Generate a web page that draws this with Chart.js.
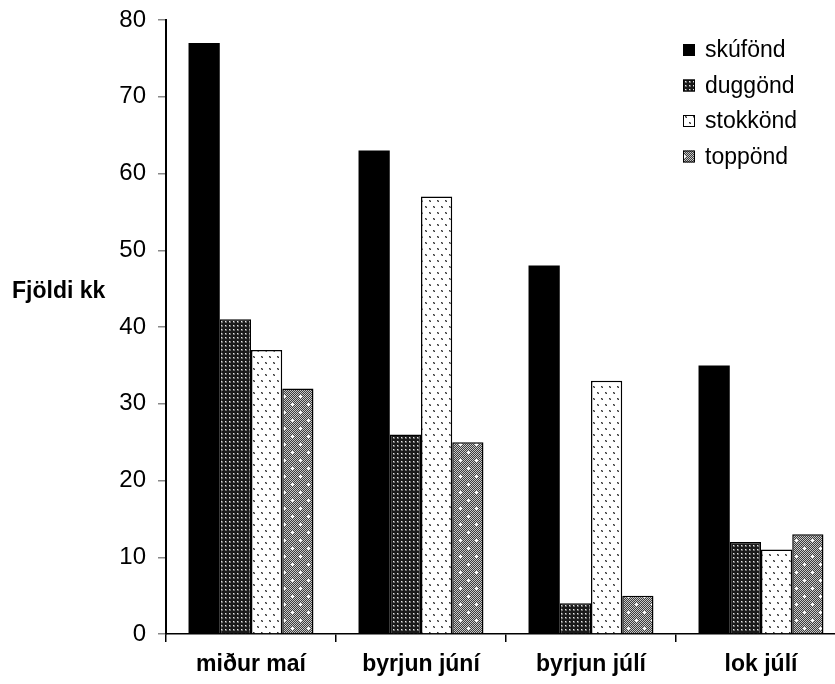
<!DOCTYPE html>
<html>
<head>
<meta charset="utf-8">
<script src="https://cdn.jsdelivr.net/npm/chart.js@4/dist/chart.umd.min.js"></script>
<style>
  html, body { margin: 0; padding: 0; background: #fff; overflow: hidden; }
  #wrap { position: relative; width: 850px; height: 684px; }
</style>
</head>
<body>
<div id="wrap"><canvas id="c"></canvas></div>
<script>
// Periods and species counts
const categories = ['miður maí', 'byrjun júní', 'byrjun júlí', 'lok júlí'];
const seriesNames = ['skúfönd', 'duggönd', 'stokkönd', 'toppönd'];
const skufond  = [77, 63, 48, 35];
const duggond  = [41, 26, 4, 12];
const stokkond = [37, 57, 33, 11];
const toppond  = [32, 25, 5, 13];
const yTicks = [0, 10, 20, 30, 40, 50, 60, 70, 80];

const FONT = '"Liberation Sans", Arial, sans-serif';

// Small tiled fills for the hatched bars
function tile(w, h, draw) {
  const cv = document.createElement('canvas');
  cv.width = w; cv.height = h;
  const g = cv.getContext('2d');
  draw(g);
  return document.createElement('canvas').getContext('2d').createPattern(cv, 'repeat');
}
const darkDots = tile(4, 4, g => {
  g.fillStyle = '#1a1a1a'; g.fillRect(0, 0, 4, 4);
  g.fillStyle = '#6e6e6e'; g.fillRect(1, 1, 2, 2);
  g.fillStyle = '#e8e8e8'; g.fillRect(1, 1, 1, 1);
});
const lightDots = tile(8, 12, g => {
  g.fillStyle = '#ffffff'; g.fillRect(0, 0, 8, 12);
  g.fillStyle = '#9a9a9a';
  g.fillRect(1, 2, 2, 2);
  g.fillRect(5, 8, 2, 2);
  g.fillStyle = '#3a3a3a';
  g.fillRect(1, 2, 1, 1); g.fillRect(2, 3, 1, 1);
  g.fillRect(5, 8, 1, 1); g.fillRect(6, 9, 1, 1);
});
const greySpots = tile(16, 16, g => {
  for (let y = 0; y < 16; y++) for (let x = 0; x < 16; x++) {
    g.fillStyle = ((x + y) % 2) ? '#3c3c3c' : '#c8c8c8';
    g.fillRect(x, y, 1, 1);
  }
  g.fillStyle = '#ffffff';
  [[4, 4], [12, 12]].forEach(([cx, cy]) => {
    g.fillRect(cx - 1, cy, 3, 1);
    g.fillRect(cx, cy - 1, 1, 3);
  });
});

const fills = [ '#000000', darkDots, lightDots, greySpots ];
const values = [ skufond, duggond, stokkond, toppond ];

const datasets = seriesNames.map((name, i) => ({
  label: name,
  data: values[i],
  backgroundColor: fills[i],
  borderColor: '#000',
  borderWidth: i === 0 ? 0 : 1.5,
  borderSkipped: 'bottom',
  categoryPercentage: 0.735,
  barPercentage: 1.0
}));

// Legend at the upper right of the plot, and the horizontal y title
const decorations = {
  id: 'decorations',
  afterDraw(chart) {
    const ctx = chart.ctx;
    ctx.save();
    // y title
    ctx.font = 'bold 23px ' + FONT;
    ctx.fillStyle = '#000';
    ctx.textAlign = 'left';
    ctx.textBaseline = 'alphabetic';
    ctx.fillText('Fjöldi kk', 12, 298);
    // legend
    const rows = [50, 85.5, 121, 156.5];
    ctx.font = '23px ' + FONT;
    ctx.textBaseline = 'middle';
    chart.data.datasets.forEach((ds, i) => {
      const y = rows[i];
      ctx.fillStyle = ds.backgroundColor;
      ctx.fillRect(683, y - 6, 12, 12);
      ctx.strokeStyle = '#000';
      ctx.lineWidth = 1;
      ctx.strokeRect(683.5, y - 5.5, 11, 11);
      ctx.fillStyle = '#000';
      ctx.fillText(ds.label, 705, y + 1);
    });
    ctx.restore();
  }
};

new Chart(document.getElementById('c'), {
  type: 'bar',
  data: { labels: categories, datasets },
  plugins: [decorations],
  options: {
    responsive: true,
    maintainAspectRatio: false,
    animation: false,
    layout: { padding: { top: 20, right: 4, left: 0, bottom: 0 } },
    plugins: {
      legend: { display: false },
      tooltip: { enabled: false }
    },
    scales: {
      x: {
        afterFit(s) { s.height = 50; s.paddingLeft = 0; s.paddingRight = 0; },
        border: { color: '#000', width: 1.5 },
        grid: { offset: true, drawOnChartArea: false, drawTicks: true, tickLength: 8, color: '#000', lineWidth: 1.5 },
        ticks: {
          color: '#000',
          font: { family: FONT, size: 23, weight: 'bold' },
          padding: 9,
          maxRotation: 0
        }
      },
      y: {
        min: 0,
        max: 80,
        afterFit(s) { s.width = 166; s.paddingTop = 0; s.paddingBottom = 0; },
        afterBuildTicks(s) { s.ticks = yTicks.map(v => ({ value: v })); },
        border: { color: '#000', width: 2 },
        grid: { drawOnChartArea: false, drawTicks: true, tickLength: 8, color: '#888', lineWidth: 1.5 },
        ticks: {
          color: '#000',
          font: { family: FONT, size: 24 },
          padding: 12
        }
      }
    }
  }
});
</script>
</body>
</html>
